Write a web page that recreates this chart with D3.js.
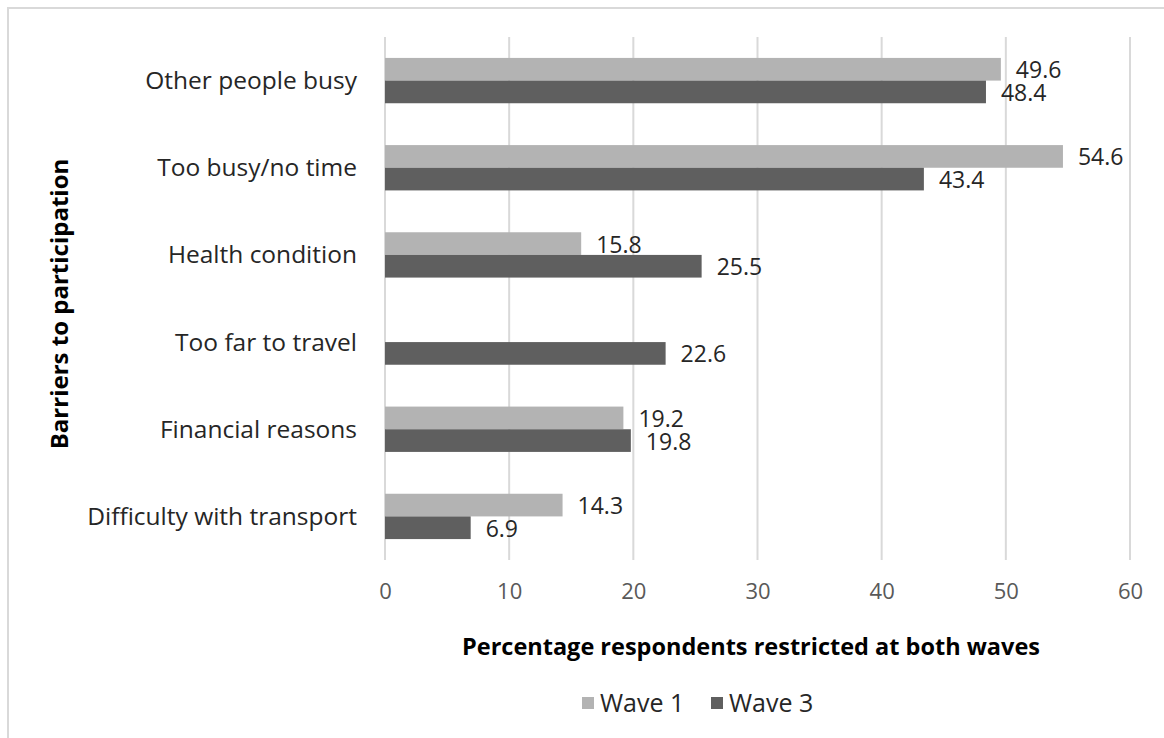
<!DOCTYPE html>
<html>
<head>
<meta charset="utf-8">
<script src="https://cdn.jsdelivr.net/npm/d3@7"></script>
<style>
  html, body { margin: 0; padding: 0; background: #fff; }
  svg { display: block; font-family: "Open Sans", "Noto Sans", sans-serif; }
</style>
</head>
<body>
<svg id="chart" width="1164" height="738"></svg>
<script>
// Barriers to participation, share of respondents restricted at both waves
const categories = [
  "Other people busy",
  "Too busy/no time",
  "Health condition",
  "Too far to travel",
  "Financial reasons",
  "Difficulty with transport"
];
const seriesNames = ["Wave 1", "Wave 3"];
const wave1 = [49.6, 54.6, 15.8, null, 19.2, 14.3];
const wave3 = [48.4, 43.4, 25.5, 22.6, 19.8, 6.9];
const xTicks = [0, 10, 20, 30, 40, 50, 60];
const seriesColors = ["#b3b3b3", "#5f5f5f"];

const seriesValues = [wave1, wave3];

const svg = d3.select("#chart");
const W = 1164, H = 738;

// outer frame (only top and left edges fall inside the canvas)
svg.append("rect")
  .attr("x", 8).attr("y", 8)
  .attr("width", W + 20).attr("height", H + 20)
  .attr("fill", "none")
  .attr("stroke", "#d9d9d9")
  .attr("stroke-width", 2);

const plot = { left: 385, right: 1130, top: 37, bottom: 560 };

const x = d3.scaleLinear()
  .domain([0, 60])
  .range([plot.left, plot.right]);

const y0 = d3.scaleBand()
  .domain(categories)
  .range([plot.top, plot.bottom]);

const groupFrac = 0.52;
const y1 = d3.scaleBand()
  .domain(seriesNames)
  .range([0, y0.bandwidth() * groupFrac]);
const groupOffset = y0.bandwidth() * (1 - groupFrac) / 2;

// vertical gridlines
svg.append("g")
  .selectAll("line")
  .data(xTicks)
  .join("line")
  .attr("x1", d => x(d)).attr("x2", d => x(d))
  .attr("y1", plot.top).attr("y2", plot.bottom)
  .attr("stroke", "#d9d9d9")
  .attr("stroke-width", 2);

// x axis tick labels
const xAxis = d3.axisBottom(x).tickValues(xTicks).tickSize(0).tickPadding(0);
const xg = svg.append("g")
  .attr("transform", `translate(0, ${plot.bottom})`)
  .call(xAxis);
xg.select(".domain").remove();
xg.selectAll("text")
  .attr("y", 31)
  .attr("dy", "0.35em")
  .attr("fill", "#595959")
  .style("font-size", "22px")
  .style("font-family", "'Open Sans', sans-serif");

// category labels
const yAxis = d3.axisLeft(y0).tickSize(0).tickPadding(0);
const yg = svg.append("g")
  .attr("transform", `translate(${plot.left - 28}, 0)`)
  .call(yAxis);
yg.select(".domain").remove();
yg.selectAll("text")
  .attr("x", 0)
  .attr("dy", "0.35em")
  .attr("fill", "#262626")
  .style("font-size", "24.5px")
  .style("font-family", "'Open Sans', sans-serif");

// bars
const rows = [];
categories.forEach((c, i) => {
  seriesNames.forEach((s, j) => {
    const v = seriesValues[j][i];
    if (v !== null && v !== undefined) rows.push({ cat: c, series: s, j, value: v });
  });
});

svg.append("g")
  .selectAll("rect")
  .data(rows)
  .join("rect")
  .attr("x", x(0))
  .attr("y", d => y0(d.cat) + groupOffset + y1(d.series))
  .attr("width", d => x(d.value) - x(0))
  .attr("height", y1.bandwidth())
  .attr("fill", d => seriesColors[d.j]);

// value labels
svg.append("g")
  .selectAll("text")
  .data(rows)
  .join("text")
  .attr("x", d => x(d.value) + 15)
  .attr("y", d => y0(d.cat) + groupOffset + y1(d.series) + y1.bandwidth() / 2 + 1)
  .attr("dy", "0.35em")
  .attr("fill", "#262626")
  .style("font-size", "23px")
  .text(d => d.value.toFixed(1));

// axis titles
svg.append("text")
  .attr("x", 751)
  .attr("y", 655)
  .attr("text-anchor", "middle")
  .attr("fill", "#000")
  .style("font-size", "23.5px")
  .style("font-weight", "bold")
  .text("Percentage respondents restricted at both waves");

svg.append("text")
  .attr("transform", `translate(68, 304) rotate(-90)`)
  .attr("text-anchor", "middle")
  .attr("fill", "#000")
  .style("font-size", "24px")
  .style("font-weight", "bold")
  .text("Barriers to participation");

// legend
const legendItems = [
  { name: seriesNames[0], color: seriesColors[0], x: 582 },
  { name: seriesNames[1], color: seriesColors[1], x: 711 }
];
const lg = svg.append("g");
legendItems.forEach(it => {
  lg.append("rect")
    .attr("x", it.x).attr("y", 697)
    .attr("width", 12).attr("height", 12)
    .attr("fill", it.color);
  lg.append("text")
    .attr("x", it.x + 18).attr("y", 703)
    .attr("dy", "0.35em")
    .attr("fill", "#262626")
    .style("font-size", "25px")
    .text(it.name);
});
</script>
</body>
</html>
